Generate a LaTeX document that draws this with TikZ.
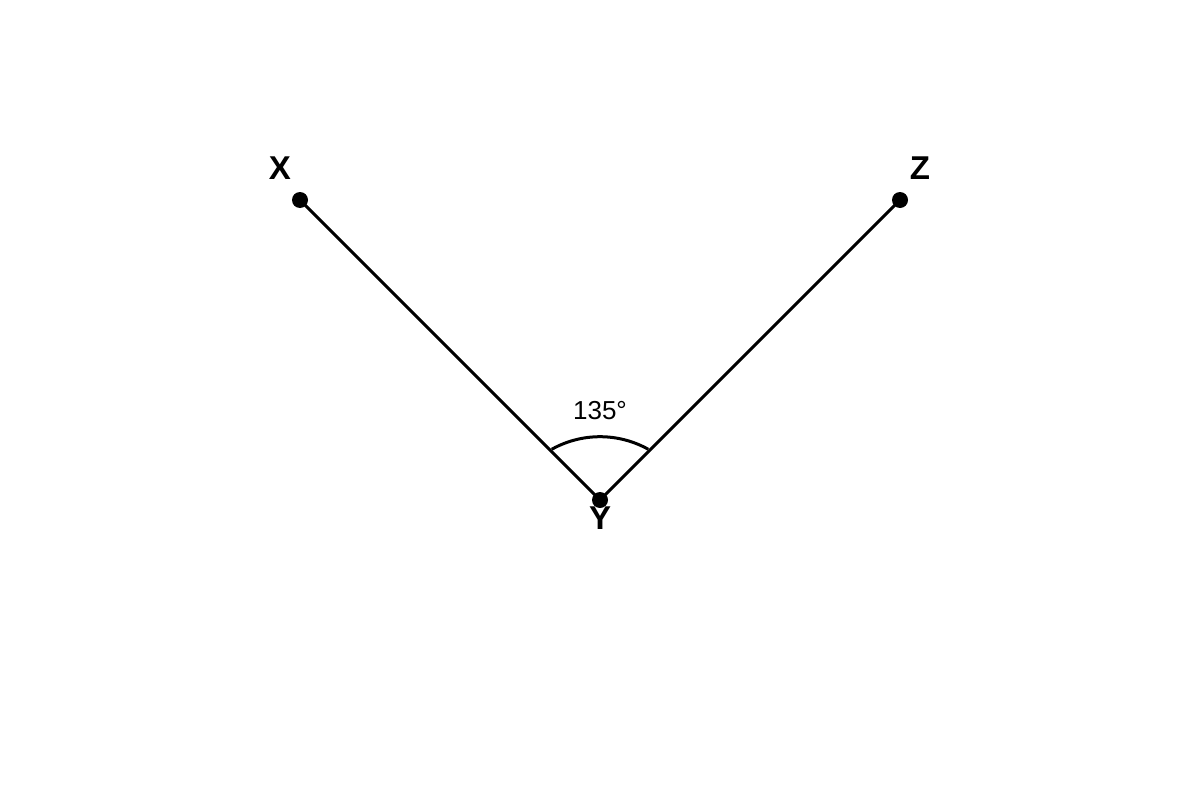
\documentclass[tikz,border=0pt]{standalone}
\usepackage{fontspec}
\setmainfont{Liberation Sans}
\begin{document}
\begin{tikzpicture}[x=1pt,y=-1pt,
  seg/.style={line width=3pt},
  dotpt/.style={circle,fill=black,inner sep=0pt,minimum size=16pt},
  ptlabel/.style={font=\fontsize{33}{38}\selectfont\bfseries,inner sep=0pt},
  anglabel/.style={font=\fontsize{26}{30}\selectfont,inner sep=0pt}]
\useasboundingbox (0,0) rectangle (1200,800);
\coordinate (X) at (300,200);
\coordinate (Y) at (600,500);
\coordinate (Z) at (900,200);
\draw[seg] (X) -- (Y) -- (Z);
\coordinate (arcc) at (600,535.6);
\draw[seg] ([shift={(-119.2:98.9)}]arcc) arc[start angle=-119.2,end angle=-60.8,radius=98.9];
\node[dotpt] (dX) at (X) {};
\node[dotpt] (dY) at (Y) {};
\node[dotpt] (dZ) at (Z) {};
\node[ptlabel] (lX) at (280,168) {X};
\node[ptlabel] (lZ) at (920,168) {Z};
\node[ptlabel] (lY) at (600,518) {Y};
\node[anglabel] (ang) at (600,411) {135°};
\end{tikzpicture}
\end{document}
